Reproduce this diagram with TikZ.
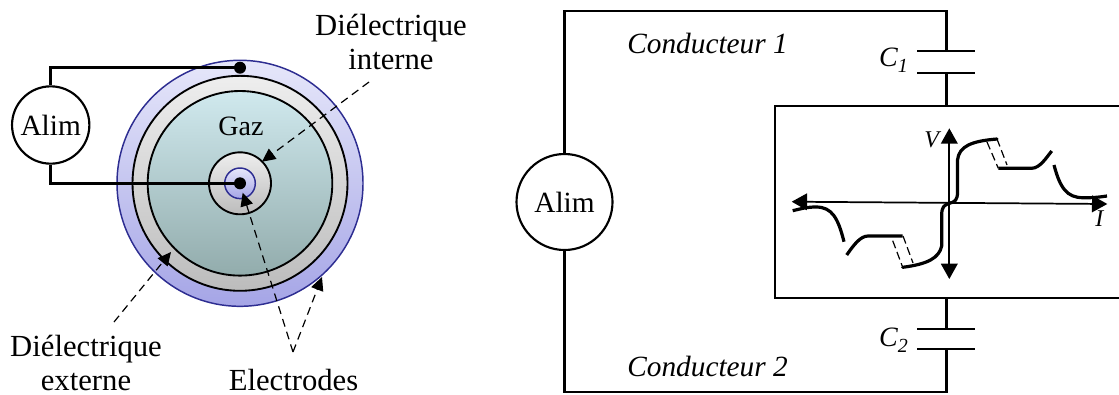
\documentclass[tikz,border=0pt]{standalone}
\usepackage{fontspec}
\setmainfont{Liberation Serif}
\usetikzlibrary{arrows.meta}
\definecolor{elec}{RGB}{45,45,145}
\definecolor{outT}{RGB}{230,231,250}
\definecolor{outB}{RGB}{165,165,230}
\definecolor{grT}{RGB}{238,238,238}
\definecolor{grB}{RGB}{188,188,188}
\definecolor{gasT}{RGB}{208,233,238}
\definecolor{gasB}{RGB}{146,172,172}
\newcommand{\subsc}[1]{\raisebox{-4.5pt}{\fontsize{15}{15}\selectfont #1}}
\tikzset{
 x=0.75pt,y=-0.75pt,
 wire/.style={line width=2.2pt},
 ring/.style={draw=black,line width=1.4pt},
 thin ring/.style={draw=elec,line width=1.1pt},
 dash arrow/.style={dash pattern=on 6pt off 4pt,line width=0.9pt,-{Triangle[length=10pt,width=9.5pt]}},
 axis/.style={line width=1.3pt,{Triangle[length=11.5pt,width=12.5pt]}-{Triangle[length=11.5pt,width=12.5pt]}},
 thick curve/.style={line width=2.4pt},
 thin curve/.style={line width=0.9pt,dash pattern=on 6pt off 3pt},
 lbl/.style={font=\fontsize{23}{26}\selectfont,inner sep=0pt,align=center},
 ital/.style={font=\fontsize{22}{26}\selectfont\itshape,inner sep=0pt},
 gen/.style={circle,draw=black,line width=1.6pt,inner sep=0pt,font=\fontsize{22}{26}\selectfont}
}
\begin{document}
\begin{tikzpicture}
\useasboundingbox (0,0) rectangle (1119,394);
% left figure
\shade[top color=outT,bottom color=outB] (240,183.3) circle (123);
\draw[elec,line width=1.1pt] (240,183.3) circle (123);
\shade[top color=grT,bottom color=grB] (240,183.3) circle (107.5);
\draw[ring] (240,183.3) circle (107.5);
\shade[top color=gasT,bottom color=gasB] (240,183.3) circle (92.3);
\draw[ring] (240,183.3) circle (92.3);
\shade[top color=grT,bottom color=grB] (240,183.3) circle (31);
\draw[ring] (240,183.3) circle (31);
\shade[top color=outT,bottom color=outB] (240,183.3) circle (15.3);
\draw[thin ring] (240,183.3) circle (15.3);
\node[gen,minimum size=58pt] (alimL) at (50.7,125) {Alim};
\fill (240,67.7) circle (6) coordinate (dotA);
\fill (240,183.3) circle (6) coordinate (dotB);
\draw[wire] (alimL.north) |- (dotA);
\draw[wire] (alimL.south) |- (dotB);
\node[lbl,font=\fontsize{21}{26}\selectfont] (gaz) at (241,126) {Gaz};
\node[lbl] (dint) at (391,42) {Diélectrique\\interne};
\node[lbl] (dext) at (86,363) {Diélectrique\\externe};
\node[lbl] (elecs) at (293.5,379.5) {Electrodes};
\coordinate (a1) at (369,82); \coordinate (a2) at (262,161.7);
\coordinate (b1) at (114,322); \coordinate (b2) at (171,252);
\coordinate (c1) at (293,352); \coordinate (c2) at (242.7,192.7);
\coordinate (c3) at (322,277);
\draw[dash arrow] (a1) -- (a2);
\draw[dash arrow] (b1) -- (b2);
\draw[dash arrow] (c1) -- (c2);
\draw[dash arrow] (c1) -- (c3);
% right figure
\node[gen,minimum size=72pt] (alimR) at (564.5,202) {Alim};
\coordinate (tr) at (946.5,11);
\coordinate (br) at (946.5,392);
\coordinate (p1a) at (946.5,51); \coordinate (p1b) at (946.5,73);
\coordinate (p2a) at (946.5,329); \coordinate (p2b) at (946.5,349);
\coordinate (bxt) at (946.5,106); \coordinate (bxb) at (946.5,298);
\draw[wire] (alimR.north) |- (tr) -- (p1a);
\draw[wire] (alimR.south) |- (br) -- (p2b);
\draw[wire] (917,51) -- (975,51);
\draw[wire] (917,73) -- (975,73);
\draw[wire] (p1b) -- (bxt);
\draw[wire] (917,329) -- (975,329);
\draw[wire] (917,349) -- (975,349);
\draw[wire] (bxb) -- (p2a);
\draw[line width=1pt] (1119,106) -- (775,106) -- (775,298) -- (1119,298);
\node[ital,anchor=west] (cc1) at (627,43) {Conducteur 1};
\node[ital,anchor=west] (cc2) at (627,366) {Conducteur 2};
\node[ital,font=\fontsize{21}{26}\selectfont\itshape] (l1) at (893.5,60) {C\subsc{1}};
\node[ital,font=\fontsize{21}{26}\selectfont\itshape] (l2) at (893.5,340) {C\subsc{2}};
\node[ital,font=\fontsize{18}{20}\selectfont\itshape] (v) at (931.7,140) {V};
\node[ital,font=\fontsize{18}{20}\selectfont\itshape] (i) at (1099.3,219) {I};
% axes
\coordinate (vT) at (949.3,128.3); \coordinate (vB) at (949.3,279);
\coordinate (hL) at (791.7,201.7); \coordinate (hR) at (1107.3,204);
\draw[axis] (vT) -- (vB);
\draw[axis] (hL) -- (hR);
% curve, right half
\draw[thick curve,line cap=round] (949.3,203.3) .. controls (955,202) and (957.5,200) .. (957.5,192) -- (957.5,160) .. controls (959,146) and (972,141) .. (997,139);
\draw[thick curve] (998.3,168.3) -- (1031.7,168.3) .. controls (1040,168) and (1046,158) .. (1051.7,151);
\draw[thick curve] (1054,165) .. controls (1060,188) and (1067,197.7) .. (1083,197.7) .. controls (1092,198) and (1100,197) .. (1107,196);
\draw[thin curve] (987,142) -- (998.3,168.3);
\draw[thin curve] (997,139) -- (1007,165);
% curve, left half
\draw[thick curve,line cap=round] (949.3,203.3) .. controls (944,205) and (941.7,207) .. (941.7,215) -- (941.7,246) .. controls (939,258) and (928,264) .. (902.7,267.3);
\draw[thick curve] (902.7,236) -- (868,236) .. controls (860,236) and (853,246) .. (846.7,255);
\draw[thick curve] (844,241.7) .. controls (838,218) and (832,207) .. (816,207) .. controls (806,207) and (800,209) .. (792.7,210.7);
\draw[thin curve] (892.7,240.7) -- (902.7,267.3);
\draw[thin curve] (903,236) -- (913,263);
\end{tikzpicture}
\end{document}
